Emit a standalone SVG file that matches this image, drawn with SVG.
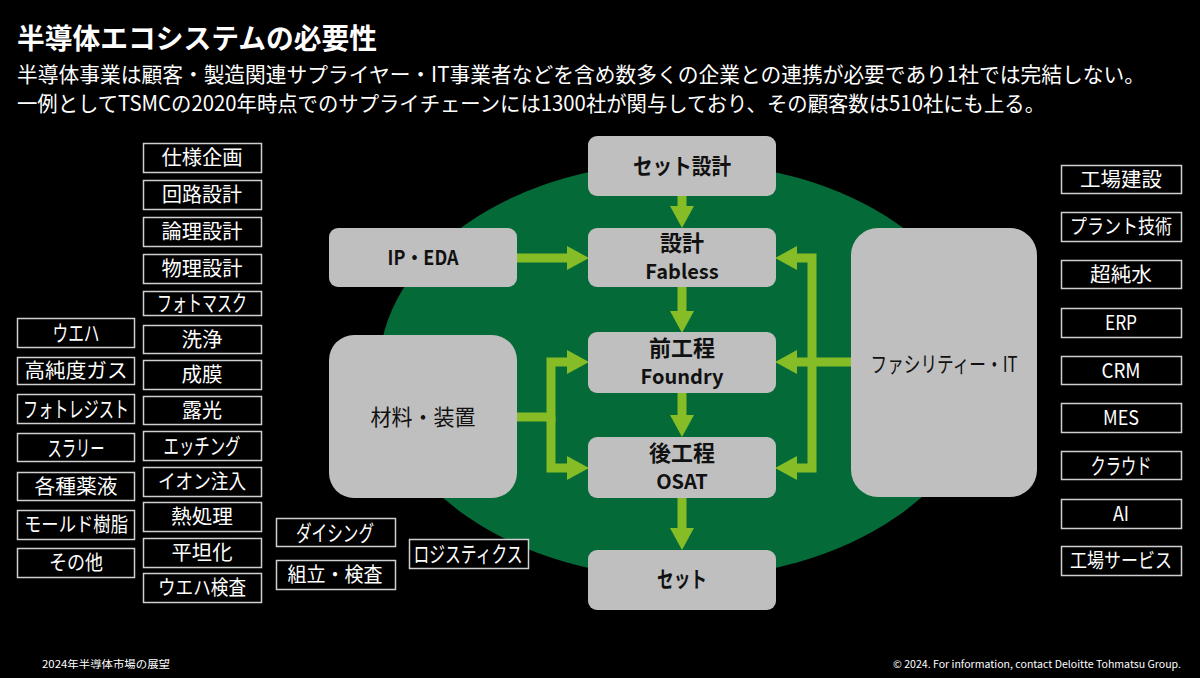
<svg xmlns="http://www.w3.org/2000/svg" width="1200" height="678" viewBox="0 0 1200 678">
<style>
text{font-family:"Noto Sans CJK JP","Noto Sans",sans-serif}
.ob{fill:#000;stroke:#cfcfcf;stroke-width:1.5}
.ot{fill:#fff;font-size:20px;text-anchor:middle}
.kt{font-size:22px}
.gb{fill:#bfbfbf}
.gt{fill:#111;font-size:22px;font-weight:700;text-anchor:middle}
.gl{fill:#111;font-size:20px;font-weight:700;text-anchor:middle}
.gr{fill:#111;font-size:22px;font-weight:400;text-anchor:middle}
.conn{fill:none;stroke:#86bc25;stroke-width:9;stroke-linejoin:miter;stroke-linecap:butt}
.hd{fill:#fff}
</style>
<defs>
<marker id="ah" markerUnits="userSpaceOnUse" markerWidth="22" markerHeight="24" viewBox="0 0 22 24" refX="0" refY="12" orient="auto">
<path d="M0,0 L22,12 L0,24 Z" fill="#86bc25"/>
</marker>
</defs>
<rect x="0" y="0" width="1200" height="678" fill="#000"/>

<g id="header">
<text x="17" y="49" font-size="28" font-weight="700" class="hd" textLength="360" lengthAdjust="spacingAndGlyphs">半導体エコシステムの必要性</text>
<text x="17" y="82" font-size="21" class="hd" textLength="1128" lengthAdjust="spacingAndGlyphs">半導体事業は顧客・製造関連サプライヤー・IT事業者などを含め数多くの企業との連携が必要であり1社では完結しない。</text>
<text x="17" y="111" font-size="21" class="hd" textLength="1028" lengthAdjust="spacingAndGlyphs">一例としてTSMCの2020年時点でのサプライチェーンには1300社が関与しており、その顧客数は510社にも上る。</text>
</g>

<ellipse id="ecosystem" cx="682" cy="370" rx="303" ry="208" fill="#046a38"/>

<g id="connectors">
<path class="conn" d="M682,196 V206" marker-end="url(#ah)"/>
<path class="conn" d="M682,287 V311" marker-end="url(#ah)"/>
<path class="conn" d="M682,393 V415" marker-end="url(#ah)"/>
<path class="conn" d="M682,498 V528" marker-end="url(#ah)"/>
<path class="conn" d="M517,258 H567" marker-end="url(#ah)"/>
<path class="conn" d="M517,417 H551 V362 H567" marker-end="url(#ah)"/>
<path class="conn" d="M551,417 V468 H567" marker-end="url(#ah)"/>
<path class="conn" d="M851,362 H797" marker-end="url(#ah)"/>
<path class="conn" d="M812,362 V258 H797" marker-end="url(#ah)"/>
<path class="conn" d="M812,362 V468 H797" marker-end="url(#ah)"/>
</g>

<g id="set-design"><rect class="gb" x="588" y="136" width="188" height="60" rx="9"/><text class="gt" x="682" y="174" font-size="23" textLength="98" lengthAdjust="spacingAndGlyphs">セット設計</text></g>
<g id="fabless"><rect class="gb" x="588" y="228" width="188" height="59" rx="9"/><text class="gt" x="682" y="251">設計</text><text class="gl" x="682" y="279">Fabless</text></g>
<g id="foundry"><rect class="gb" x="588" y="332" width="188" height="61" rx="9"/><text class="gt" x="682" y="356">前工程</text><text class="gl" x="682" y="384">Foundry</text></g>
<g id="osat"><rect class="gb" x="588" y="437" width="188" height="61" rx="9"/><text class="gt" x="682" y="461">後工程</text><text class="gl" x="682" y="489">OSAT</text></g>
<g id="set"><rect class="gb" x="588" y="550" width="188" height="60" rx="9"/><text class="gt" x="682" y="587" font-size="24" textLength="50" lengthAdjust="spacingAndGlyphs">セット</text></g>
<g id="ip-eda"><rect class="gb" x="329" y="228" width="188" height="59" rx="9"/><text class="gl" x="423" y="265" textLength="71" lengthAdjust="spacingAndGlyphs">IP・EDA</text></g>
<g id="materials"><rect class="gb" x="329" y="335" width="188" height="163" rx="25"/><text class="gr" x="423" y="425" textLength="105" lengthAdjust="spacingAndGlyphs">材料・装置</text></g>
<g id="facility-it"><rect class="gb" x="851" y="228" width="186" height="269" rx="27"/><text class="gr" x="944" y="372" font-size="24" textLength="147" lengthAdjust="spacingAndGlyphs">ファシリティー・IT</text></g>

<g id="process-list">
<g id="p1"><rect class="ob" x="143.5" y="143.5" width="118" height="29"/><text class="ot" x="202" y="165" textLength="81" lengthAdjust="spacingAndGlyphs">仕様企画</text></g>
<g id="p2"><rect class="ob" x="143.5" y="180.5" width="118" height="29"/><text class="ot" x="202" y="202" textLength="80" lengthAdjust="spacingAndGlyphs">回路設計</text></g>
<g id="p3"><rect class="ob" x="143.5" y="217.5" width="118" height="29"/><text class="ot" x="202" y="239" textLength="81" lengthAdjust="spacingAndGlyphs">論理設計</text></g>
<g id="p4"><rect class="ob" x="143.5" y="254.5" width="118" height="29"/><text class="ot" x="202" y="276" textLength="81" lengthAdjust="spacingAndGlyphs">物理設計</text></g>
<g id="p5"><rect class="ob" x="143.5" y="291.5" width="118" height="24"/><text class="ot kt" x="202" y="311" textLength="90" lengthAdjust="spacingAndGlyphs">フォトマスク</text></g>
<g id="p6"><rect class="ob" x="143.5" y="325.5" width="118" height="28"/><text class="ot" x="202" y="347" textLength="41" lengthAdjust="spacingAndGlyphs">洗浄</text></g>
<g id="p7"><rect class="ob" x="143.5" y="360.5" width="118" height="29"/><text class="ot" x="202" y="382" textLength="41" lengthAdjust="spacingAndGlyphs">成膜</text></g>
<g id="p8"><rect class="ob" x="143.5" y="396.5" width="118" height="28"/><text class="ot" x="202" y="418" textLength="40" lengthAdjust="spacingAndGlyphs">露光</text></g>
<g id="p9"><rect class="ob" x="143.5" y="431.5" width="118" height="29"/><text class="ot kt" x="202" y="454" textLength="77" lengthAdjust="spacingAndGlyphs">エッチング</text></g>
<g id="p10"><rect class="ob" x="143.5" y="467.5" width="118" height="29"/><text class="ot" x="202" y="489" font-size="21" textLength="88" lengthAdjust="spacingAndGlyphs">イオン注入</text></g>
<g id="p11"><rect class="ob" x="143.5" y="502.5" width="118" height="29"/><text class="ot" x="202" y="524" textLength="62" lengthAdjust="spacingAndGlyphs">熱処理</text></g>
<g id="p12"><rect class="ob" x="143.5" y="538.5" width="118" height="29"/><text class="ot" x="202" y="560" textLength="61" lengthAdjust="spacingAndGlyphs">平坦化</text></g>
<g id="p13"><rect class="ob" x="143.5" y="573.5" width="118" height="29"/><text class="ot" x="202" y="595" font-size="21" textLength="88" lengthAdjust="spacingAndGlyphs">ウエハ検査</text></g>
</g>

<g id="material-list">
<g id="m1"><rect class="ob" x="17.5" y="318.5" width="117" height="29"/><text class="ot kt" x="76" y="341" textLength="47" lengthAdjust="spacingAndGlyphs">ウエハ</text></g>
<g id="m2"><rect class="ob" x="17.5" y="357.5" width="117" height="27"/><text class="ot" x="76" y="378" font-size="21" textLength="103" lengthAdjust="spacingAndGlyphs">高純度ガス</text></g>
<g id="m3"><rect class="ob" x="17.5" y="394.5" width="117" height="29"/><text class="ot kt" x="76" y="417" textLength="106" lengthAdjust="spacingAndGlyphs">フォトレジスト</text></g>
<g id="m4"><rect class="ob" x="17.5" y="433.5" width="117" height="28"/><text class="ot kt" x="76" y="456" textLength="57" lengthAdjust="spacingAndGlyphs">スラリー</text></g>
<g id="m5"><rect class="ob" x="17.5" y="472.5" width="117" height="28"/><text class="ot" x="76" y="494" textLength="83" lengthAdjust="spacingAndGlyphs">各種薬液</text></g>
<g id="m6"><rect class="ob" x="17.5" y="510.5" width="117" height="29"/><text class="ot" x="76" y="532" font-size="21" textLength="104" lengthAdjust="spacingAndGlyphs">モールド樹脂</text></g>
<g id="m7"><rect class="ob" x="17.5" y="548.5" width="117" height="29"/><text class="ot" x="76" y="570" textLength="54" lengthAdjust="spacingAndGlyphs">その他</text></g>
</g>

<g id="backend-list">
<g id="b1"><rect class="ob" x="276.5" y="518.5" width="119" height="28"/><text class="ot kt" x="335" y="541" textLength="78" lengthAdjust="spacingAndGlyphs">ダイシング</text></g>
<g id="b2"><rect class="ob" x="276.5" y="560.5" width="119" height="29"/><text class="ot" x="335" y="582" textLength="95" lengthAdjust="spacingAndGlyphs">組立・検査</text></g>
<g id="b3"><rect class="ob" x="409.5" y="539.5" width="119" height="29"/><text class="ot kt" x="468" y="562" textLength="109" lengthAdjust="spacingAndGlyphs">ロジスティクス</text></g>
</g>

<g id="facility-list">
<g id="f1"><rect class="ob" x="1061.5" y="165.5" width="120" height="28"/><text class="ot" x="1121" y="187" textLength="82" lengthAdjust="spacingAndGlyphs">工場建設</text></g>
<g id="f2"><rect class="ob" x="1061.5" y="212.5" width="120" height="29"/><text class="ot" x="1121" y="234" font-size="21" textLength="102" lengthAdjust="spacingAndGlyphs">プラント技術</text></g>
<g id="f3"><rect class="ob" x="1061.5" y="260.5" width="120" height="28"/><text class="ot" x="1121" y="282" textLength="62" lengthAdjust="spacingAndGlyphs">超純水</text></g>
<g id="f4"><rect class="ob" x="1061.5" y="308.5" width="120" height="29"/><text class="ot" x="1121" y="330" textLength="32" lengthAdjust="spacingAndGlyphs">ERP</text></g>
<g id="f5"><rect class="ob" x="1061.5" y="356.5" width="120" height="28"/><text class="ot" x="1121" y="378" textLength="39" lengthAdjust="spacingAndGlyphs">CRM</text></g>
<g id="f6"><rect class="ob" x="1061.5" y="403.5" width="120" height="29"/><text class="ot" x="1121" y="425" textLength="36" lengthAdjust="spacingAndGlyphs">MES</text></g>
<g id="f7"><rect class="ob" x="1061.5" y="451.5" width="120" height="28"/><text class="ot kt" x="1121" y="474" textLength="61" lengthAdjust="spacingAndGlyphs">クラウド</text></g>
<g id="f8"><rect class="ob" x="1061.5" y="499.5" width="120" height="29"/><text class="ot" x="1121" y="521" textLength="16" lengthAdjust="spacingAndGlyphs">AI</text></g>
<g id="f9"><rect class="ob" x="1061.5" y="546.5" width="120" height="29"/><text class="ot" x="1121" y="568" font-size="21" textLength="102" lengthAdjust="spacingAndGlyphs">工場サービス</text></g>
</g>

<g id="footer">
<text x="42" y="668" font-size="10" class="hd" textLength="128" lengthAdjust="spacingAndGlyphs">2024年半導体市場の展望</text>
<text x="893" y="668" font-size="10" class="hd" textLength="288" lengthAdjust="spacingAndGlyphs">© 2024. For information, contact Deloitte Tohmatsu Group.</text>
</g>
</svg>
